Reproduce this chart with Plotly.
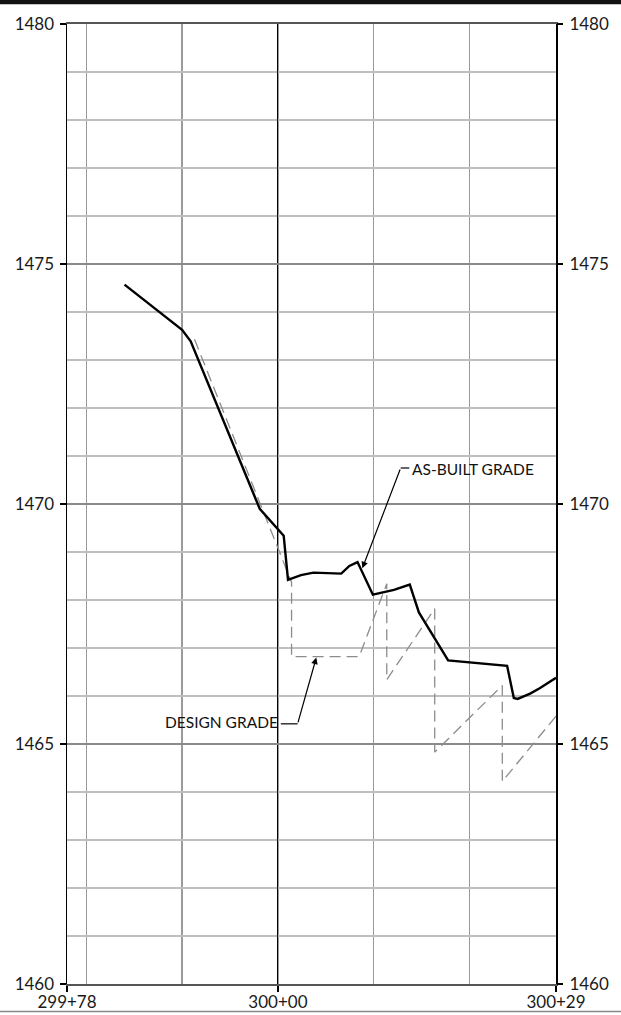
import plotly.graph_objects as go

# ---------------- data ----------------
# stations in feet (29978 = 299+78), elevations in feet
asbuilt_sta = [29984.0, 29990.0, 29990.9, 29998.1, 30000.6, 30001.05, 30002.4, 30003.7,
               30006.6, 30007.45, 30008.3, 30009.9, 30012.1, 30013.75, 30014.7, 30017.75,
               30023.9, 30024.6, 30025.0, 30026.3, 30027.3, 30029.0]
asbuilt_elev = [1474.57, 1473.63, 1473.39, 1469.90, 1469.34, 1468.42, 1468.52, 1468.57,
                1468.55, 1468.71, 1468.79, 1468.11, 1468.21, 1468.32, 1467.74, 1466.74,
                1466.63, 1465.96, 1465.94, 1466.05, 1466.16, 1466.38]

design_sta = [29991.3, 30001.42, 30001.42, 30008.47, 30011.35, 30011.35, 30016.35, 30016.35,
              30023.4, 30023.4, 30029.0]
design_elev = [1473.43, 1468.37, 1466.82, 1466.82, 1468.34, 1466.34, 1467.82, 1464.83,
               1466.22, 1464.22, 1465.58]

x_tickvals = [29978, 30000, 30029]
x_ticktext = ["299+78", "300+00", "300+29"]
y_tickvals = [1460, 1465, 1470, 1475, 1480]

FONT = "Lato"

fig = go.Figure()

fig.add_trace(go.Scatter(
    x=design_sta, y=design_elev, mode="lines",
    line=dict(color="#8c8c8c", width=1.3, dash="11px,6px"),
    showlegend=False, hoverinfo="skip"))

fig.add_trace(go.Scatter(
    x=asbuilt_sta, y=asbuilt_elev, mode="lines",
    line=dict(color="#000000", width=2.4),
    showlegend=False, hoverinfo="skip"))

# invisible trace to activate the right-hand axis
fig.add_trace(go.Scatter(x=[29978], y=[1460], yaxis="y2", mode="markers",
                         marker=dict(opacity=0), showlegend=False, hoverinfo="skip"))

# ---------------- annotations ----------------
# AS-BUILT GRADE leader
fig.add_shape(type="line", xref="x", yref="y", x0=30012.8, y0=1470.75, x1=30013.7, y1=1470.75,
              line=dict(color="black", width=1.2))
fig.add_annotation(x=30008.8, y=1468.66, ax=30012.8, ay=1470.75, axref="x", ayref="y",
                   xref="x", yref="y", text="", showarrow=True, arrowhead=2,
                   arrowsize=1.1, arrowwidth=1.2, arrowcolor="black", standoff=0)
fig.add_annotation(x=30013.75, y=1470.72, xref="x", yref="y", text="AS-BUILT GRADE",
                   showarrow=False, xanchor="left", yanchor="middle",
                   font=dict(family=FONT, size=15.5, color="#111"))

# DESIGN GRADE leader
fig.add_shape(type="line", xref="x", yref="y", x0=30000.3, y0=1465.42, x1=30002.05, y1=1465.42,
              line=dict(color="black", width=1.2))
fig.add_annotation(x=30004.0, y=1466.80, ax=30002.05, ay=1465.42, axref="x", ayref="y",
                   xref="x", yref="y", text="", showarrow=True, arrowhead=2,
                   arrowsize=1.1, arrowwidth=1.2, arrowcolor="black", standoff=0)
fig.add_annotation(x=30000.2, y=1465.45, xref="x", yref="y", text="DESIGN GRADE",
                   showarrow=False, xanchor="right", yanchor="middle",
                   font=dict(family=FONT, size=15.5, color="#111"))

# page decorations (document frame lines)
fig.add_shape(type="rect", xref="paper", yref="paper", x0=-0.3, x1=1.3, y0=1.0205, y1=1.03,
              fillcolor="#111111", line=dict(width=0), layer="above")
fig.add_shape(type="line", xref="paper", yref="paper", x0=-0.3, x1=1.3, y0=-0.0287, y1=-0.0287,
              line=dict(color="#888888", width=1.5))

tickfont = dict(family=FONT, size=17, color="#1a1a1a")

fig.update_layout(
    template="none",
    width=621, height=1015,
    margin=dict(l=67, r=65, t=24, b=31, autoexpand=False),
    paper_bgcolor="white", plot_bgcolor="white",
    font=dict(family=FONT, size=17, color="#1a1a1a"),
    xaxis=dict(
        range=[29978, 30029], tickmode="array", tickvals=x_tickvals, ticktext=x_ticktext,
        showgrid=True, gridcolor="#000000", gridwidth=1, automargin=False,
        minor=dict(tick0=29980, dtick=10, showgrid=True, gridcolor="#9a9a9a", gridwidth=1.2,
                   ticks=""),
        ticks="outside", ticklen=6, tickcolor="black", tickwidth=1.2,
        showline=True, linecolor="#555555", linewidth=2, mirror=True,
        zeroline=False, tickfont=tickfont, ticklabelstandoff=-4,
    ),
    yaxis=dict(
        range=[1460, 1480], tickmode="array", tickvals=y_tickvals, automargin=False,
        showgrid=True, gridcolor="#8a8a8a", gridwidth=2,
        minor=dict(dtick=1, tick0=1460, showgrid=True, gridcolor="#bfbfbf", gridwidth=2,
                   ticks=""),
        ticks="outside", ticklen=6, tickcolor="black", tickwidth=1.5,
        showline=True, linecolor="black", linewidth=1.5, mirror=True,
        zeroline=False, tickfont=tickfont, ticklabelstandoff=2,
    ),
    yaxis2=dict(
        range=[1460, 1480], overlaying="y", side="right", tickmode="array",
        tickvals=y_tickvals, showgrid=False, zeroline=False, automargin=False,
        ticks="outside", ticklen=6, tickcolor="black", tickwidth=1.5,
        showline=False, tickfont=tickfont, ticklabelstandoff=3,
    ),
)

fig.write_html("out.html", config={"displayModeBar": False, "staticPlot": True},
               post_script="document.body.style.margin='0';document.body.style.overflow='hidden';")
